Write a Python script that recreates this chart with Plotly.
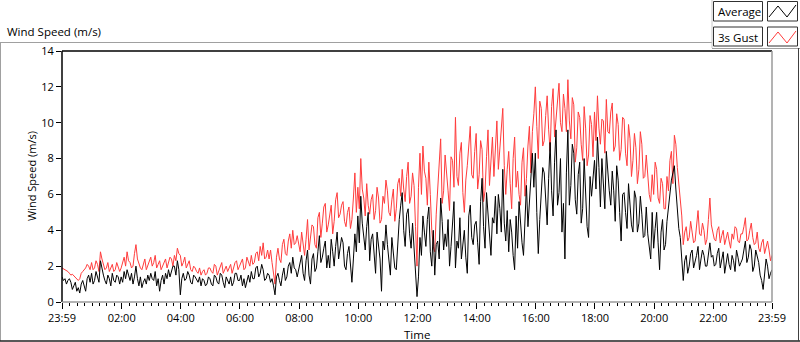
import plotly.graph_objects as go

# ---- data: samples on the 6-minute grid (first sample 23:59 of the previous day) ----
start_minute = -1
step_minutes = 6

gust = [
    1.9, 1.8, 1.7, 1.5, 1.45, 1.3, 1.3, 1.7, 1.9, 2.0,
    2.2, 1.9, 2.1, 2.8, 2.0, 1.9, 1.7, 2.1, 1.8, 2.0,
    1.9, 2.5, 2.8, 2.2, 2.0, 3.2, 2.1, 1.8, 2.4, 2.0,
    2.5, 2.2, 1.9, 2.3, 2.0, 2.4, 2.2, 2.4, 2.6, 3.0,
    2.6, 2.2, 1.9, 2.3, 1.7, 1.9, 1.6, 1.5, 1.8, 1.6,
    1.9, 1.6, 2.0, 1.7, 2.2, 1.8, 1.7, 2.1, 1.9, 2.3,
    2.0, 2.4, 1.9, 2.3, 2.6, 2.2, 2.8, 3.1, 3.3, 2.5,
    2.4, 2.2, 1.0, 3.0, 2.2, 3.5, 2.6, 3.8, 4.0, 3.3,
    3.2, 3.9, 2.6, 4.6, 3.5, 4.2, 3.0, 5.0, 4.4, 5.5,
    4.3, 5.4, 4.5, 6.1, 4.9, 5.6, 4.2, 5.3, 4.6, 7.2,
    6.4, 8.0, 5.8, 6.6, 4.9, 6.0, 5.1, 5.8, 4.6, 5.5,
    6.2, 4.8, 6.3, 5.2, 6.9, 7.4, 5.6, 7.8, 5.9, 6.5,
    2.0, 8.3, 8.7, 6.9, 7.8, 4.0, 2.8, 6.3, 9.1, 6.2,
    7.4, 5.1, 7.9, 10.3, 6.5, 8.9, 5.0, 7.6, 9.8, 6.9,
    9.4, 7.1, 8.5, 6.2, 9.6, 8.0, 7.0, 10.1, 8.6, 10.8,
    6.0, 8.4, 5.2, 9.2, 7.3, 5.4, 8.6, 6.9, 9.8, 9.5,
    12.0, 8.0, 10.8, 9.0, 11.5, 8.4, 11.9, 10.2, 12.2, 9.5,
    10.8, 12.4, 9.1, 11.0, 8.6, 10.3, 7.9, 9.7, 8.2, 9.9,
    10.6, 11.5, 8.8, 10.1, 11.3, 9.4, 11.1, 8.7, 9.9, 8.5,
    10.2, 7.6, 9.1, 7.9, 8.6, 7.4, 8.8, 7.0, 6.8, 5.6,
    6.0, 7.4, 5.5, 6.6, 5.2, 6.2, 8.4, 9.3, 7.5, 5.5,
    3.2, 4.2, 3.6, 3.9, 3.4, 5.1, 3.7, 4.0, 3.5, 5.8,
    3.9, 3.4, 4.2, 3.7, 3.2, 3.9, 3.0, 3.5, 4.1, 3.3,
    3.8, 4.7, 3.5, 4.4, 3.2, 3.9, 2.8, 3.5, 3.1, 2.9,
    2.6,
]

average = [
    1.4, 1.3, 1.2, 1.1, 0.9, 0.6, 0.5, 1.2, 0.6, 1.5,
    1.6, 1.2, 1.4, 2.3, 1.5, 1.0, 1.3, 1.6, 1.1, 1.4,
    1.4, 1.7, 1.8, 1.2, 1.0, 2.0, 0.9, 0.8, 1.3, 1.5,
    1.6, 1.2, 0.9, 0.6, 1.5, 1.6, 1.8, 1.7, 2.0, 2.3,
    0.4, 1.6, 1.3, 1.5, 1.0, 1.4, 1.1, 0.9, 1.2, 1.0,
    1.3, 0.9, 1.4, 1.0, 1.5, 0.8, 1.2, 1.4, 1.1, 1.6,
    1.2, 0.9, 0.8, 1.5, 1.7, 1.3, 2.0, 1.6, 1.8, 1.3,
    1.5, 1.3, 0.4, 1.6, 0.9, 1.9, 1.4, 2.2, 2.5, 1.8,
    1.8, 2.6, 1.2, 2.9, 1.0, 2.7, 1.9, 3.7, 2.5, 3.4,
    2.6, 3.5, 2.0, 3.9, 2.9, 3.3, 1.8, 3.1, 1.1, 3.8,
    4.8, 5.9, 3.6, 4.2, 2.3, 3.8, 1.6, 3.3, 0.6, 2.9,
    3.2, 1.5, 2.8, 1.8, 4.6, 6.1, 3.1, 5.2, 3.0, 2.9,
    0.3, 3.6, 4.8, 3.1, 5.3, 2.0, 1.5, 3.4, 5.8, 2.9,
    3.1, 2.0, 4.4, 1.9, 3.0, 2.4, 4.0, 1.6, 5.4, 3.2,
    4.5, 2.1, 6.9, 3.0, 5.0, 2.6, 4.4, 3.8, 5.2, 7.4,
    3.4, 2.8, 3.9, 1.8, 3.0, 4.2, 2.6, 6.5, 5.5, 8.3,
    8.3, 2.7, 5.8, 7.2, 4.3, 8.9, 4.8, 9.6, 6.1, 3.9,
    2.4, 9.6, 6.5, 8.3, 4.9, 7.8, 5.2, 6.4, 3.6, 5.9,
    7.9, 9.2, 5.3, 6.7, 8.4, 6.2, 7.3, 4.5, 6.8, 3.4,
    6.1, 4.1, 5.4, 3.9, 5.8, 4.4, 4.9, 3.7, 3.8, 2.4,
    3.0, 5.0, 1.8, 4.6, 3.2, 5.4, 6.8, 7.6, 5.0, 3.6,
    1.2, 2.6, 2.0, 2.9, 2.2, 3.1, 2.4, 2.6, 2.0, 3.3,
    2.6, 2.1, 3.0, 2.4, 1.6, 2.7, 1.8, 2.3, 2.9, 2.0,
    2.4, 3.4, 2.5, 2.9, 2.0, 2.6, 1.5, 0.7, 2.4, 1.3,
    1.8,
]

# ---- samples half-way between the above (minute 2, 8, 14, ...) ----
gust_mid = [
    1.85, 1.75, 1.6, 1.55, 1.35, 1.2, 1.6, 1.8, 2.1, 1.8,
    1.8, 2.3, 1.7, 2.4, 1.8, 2.2, 1.9, 1.7, 2.2, 1.7,
    2.2, 2.0, 2.3, 1.9, 2.7, 2.4, 1.9, 2.2, 1.8, 2.3,
    2.0, 2.6, 2.1, 1.8, 2.2, 1.9, 2.5, 2.0, 2.3, 2.7,
    2.0, 2.5, 2.1, 1.8, 2.0, 1.7, 1.9, 1.7, 1.5, 1.9,
    1.7, 2.1, 1.5, 2.0, 1.6, 2.0, 1.9, 1.6, 2.2, 1.8,
    2.2, 1.8, 2.5, 2.0, 2.1, 2.7, 2.3, 2.6, 2.4, 2.9,
    2.9, 1.6, 2.5, 2.4, 3.2, 2.7, 3.4, 3.0, 3.2, 3.7,
    2.8, 3.1, 3.5, 2.9, 4.3, 3.2, 4.7, 3.6, 5.3, 3.9,
    5.0, 3.8, 5.7, 4.7, 5.4, 4.5, 5.0, 4.1, 5.8, 5.0,
    5.2, 6.3, 4.8, 5.4, 5.7, 4.6, 6.4, 4.4, 5.9, 6.8,
    5.0, 5.7, 4.5, 6.6, 5.9, 6.3, 7.0, 5.5, 7.2, 4.2,
    6.4, 6.0, 7.3, 5.4, 6.0, 3.1, 4.9, 7.8, 5.5, 8.2,
    6.2, 8.1, 6.4, 7.0, 8.3, 6.1, 6.8, 8.7, 7.1, 8.4,
    6.3, 9.0, 5.6, 8.1, 6.5, 9.2, 8.3, 7.4, 9.5, 7.6,
    7.4, 6.6, 8.0, 6.4, 6.0, 7.8, 5.9, 8.7, 7.2, 10.5,
    9.8, 11.2, 8.7, 10.4, 9.6, 10.9, 9.2, 11.3, 10.0, 11.6,
    9.5, 10.1, 11.4, 7.8, 10.6, 8.8, 10.9, 7.6, 10.4, 8.1,
    9.0, 9.7, 10.2, 8.3, 9.5, 10.6, 8.4, 10.5, 7.9, 10.3,
    8.3, 9.9, 7.0, 9.4, 6.6, 9.5, 6.9, 8.2, 6.0, 7.1,
    7.8, 5.8, 6.9, 5.2, 7.0, 7.9, 6.6, 8.8, 6.5, 4.8,
    3.9, 3.4, 4.5, 3.3, 4.3, 3.8, 4.4, 3.2, 4.6, 4.3,
    3.5, 4.0, 3.3, 4.0, 3.6, 3.4, 3.8, 4.2, 3.4, 3.8,
    4.2, 3.4, 4.0, 3.6, 3.3, 3.0, 3.3, 2.7, 3.4, 2.3,
]

average_mid = [
    1.2, 1.0, 1.3, 0.7, 1.1, 0.8, 1.0, 0.9, 1.3, 1.1,
    1.0, 1.7, 1.1, 1.8, 1.2, 1.5, 0.9, 1.2, 1.5, 1.0,
    1.1, 1.3, 1.5, 1.6, 1.4, 1.3, 1.4, 1.1, 1.0, 1.2,
    1.3, 1.7, 1.3, 1.2, 1.0, 1.3, 1.4, 2.0, 1.5, 1.8,
    1.3, 1.2, 1.7, 1.1, 1.5, 1.2, 1.4, 1.3, 0.9, 1.4,
    1.0, 1.5, 1.1, 1.6, 1.1, 1.4, 1.0, 0.9, 1.6, 1.2,
    1.5, 1.3, 1.2, 1.1, 1.3, 1.9, 1.4, 2.1, 1.2, 1.6,
    1.1, 0.9, 1.4, 1.2, 1.5, 1.2, 2.0, 1.6, 1.9, 1.4,
    2.4, 1.6, 2.3, 1.5, 2.4, 1.7, 2.8, 2.2, 3.0, 1.9,
    1.9, 2.8, 3.1, 2.4, 3.6, 2.0, 2.7, 2.3, 2.4, 2.8,
    3.3, 4.4, 2.9, 5.0, 3.5, 2.7, 3.9, 2.4, 3.4, 4.3,
    2.4, 3.6, 1.9, 3.3, 5.4, 4.0, 4.9, 3.8, 4.4, 1.7,
    1.4, 2.6, 3.9, 4.6, 2.8, 4.0, 3.2, 2.4, 4.5, 3.8,
    4.6, 3.1, 5.6, 3.4, 4.7, 3.3, 2.5, 4.8, 3.6, 4.3,
    3.3, 5.6, 4.2, 6.1, 3.5, 4.7, 5.9, 6.0, 3.9, 4.4,
    5.1, 4.6, 2.6, 4.8, 5.6, 3.3, 5.2, 4.2, 7.2, 6.4,
    5.0, 4.6, 7.5, 5.3, 6.9, 6.2, 7.8, 5.4, 8.0, 5.5,
    7.2, 5.4, 8.8, 5.7, 7.1, 4.4, 8.0, 4.2, 7.0, 6.7,
    6.3, 7.5, 8.0, 5.2, 7.0, 5.4, 6.2, 7.6, 5.0, 6.0,
    5.0, 6.6, 4.3, 6.2, 3.9, 5.9, 3.6, 5.3, 2.9, 5.0,
    4.1, 3.3, 3.9, 2.9, 4.5, 5.9, 7.2, 6.3, 4.1, 2.5,
    2.3, 1.6, 2.7, 1.9, 2.6, 1.8, 2.9, 2.0, 2.7, 2.5,
    2.0, 2.7, 1.9, 2.8, 2.2, 2.1, 2.6, 1.7, 2.5, 2.2,
    2.9, 2.2, 3.2, 1.7, 2.9, 2.2, 1.2, 1.6, 2.0, 1.6,
]

tick_minutes = [-1, 120, 240, 360, 480, 600, 720, 840, 960, 1080, 1200, 1320, 1439]
tick_labels = ["23:59", "02:00", "04:00", "06:00", "08:00", "10:00", "12:00",
               "14:00", "16:00", "18:00", "20:00", "22:00", "23:59"]
y_ticks = [0, 2, 4, 6, 8, 10, 12, 14]

series_names = ["Average", "3s Gust"]

# merge the grid samples with the half-way samples in time order
minutes, gust_all, average_all = [], [], []
for i in range(len(gust)):
    minutes.append(start_minute + step_minutes * i)
    gust_all.append(gust[i])
    average_all.append(average[i])
    if i < len(gust_mid):
        minutes.append(start_minute + step_minutes * i + step_minutes // 2)
        gust_all.append(gust_mid[i])
        average_all.append(average_mid[i])

# ---- geometry helpers (pixel -> paper) ----
W, H = 800, 342
PL, PR, PT, PB = 62, 772, 51, 302


def px(x):
    return (x - PL) / (PR - PL)


def py(y):
    return (PB - y) / (PB - PT)


FONT = "Open Sans"
RED = "#ff3c3c"

fig = go.Figure()
fig.add_trace(go.Scatter(x=minutes, y=gust_all, mode="lines", name=series_names[1],
                         line=dict(color=RED, width=1), showlegend=False))
fig.add_trace(go.Scatter(x=minutes, y=average_all, mode="lines", name=series_names[0],
                         line=dict(color="#000000", width=1), showlegend=False))

shapes = []
# plot frame: dark top/left, grey bottom/right
shapes.append(dict(type="line", xref="paper", yref="paper", x0=0, x1=1, y0=1, y1=1,
                   line=dict(color="#000000", width=1.5)))
shapes.append(dict(type="line", xref="paper", yref="paper", x0=0, x1=0, y0=0, y1=1,
                   line=dict(color="#000000", width=1.5)))
shapes.append(dict(type="line", xref="paper", yref="paper", x0=0, x1=1, y0=0, y1=0,
                   line=dict(color="#9a9a9a", width=1.5)))
shapes.append(dict(type="line", xref="paper", yref="paper", x0=1, x1=1, y0=0, y1=1,
                   line=dict(color="#9a9a9a", width=1.5)))
# outer panel
shapes.append(dict(type="line", xref="paper", yref="paper", x0=px(0), x1=px(712),
                   y0=py(42.5), y1=py(42.5), line=dict(color="#a0a0a0", width=1)))
shapes.append(dict(type="line", xref="paper", yref="paper", x0=px(712), x1=px(712),
                   y0=py(0), y1=py(48), line=dict(color="#c8c8c8", width=1)))
shapes.append(dict(type="line", xref="paper", yref="paper", x0=px(712), x1=px(800),
                   y0=py(48.5), y1=py(48.5), line=dict(color="#a0a0a0", width=1)))
shapes.append(dict(type="line", xref="paper", yref="paper", x0=px(0.5), x1=px(0.5),
                   y0=py(42), y1=py(341), line=dict(color="#a0a0a0", width=1)))
shapes.append(dict(type="line", xref="paper", yref="paper", x0=px(0), x1=px(800),
                   y0=py(341), y1=py(341), line=dict(color="#202020", width=1.5)))
shapes.append(dict(type="line", xref="paper", yref="paper", x0=px(798.5), x1=px(798.5),
                   y0=py(48), y1=py(341), line=dict(color="#404040", width=1)))

# legend boxes
for (yt, yb) in [(1.5, 21), (27, 46)]:
    shapes.append(dict(type="rect", xref="paper", yref="paper", x0=px(713.5), x1=px(762.5),
                       y0=py(yb), y1=py(yt), line=dict(color="#303030", width=1),
                       fillcolor="white"))
    shapes.append(dict(type="rect", xref="paper", yref="paper", x0=px(767.5), x1=px(797.5),
                       y0=py(yb), y1=py(yt), line=dict(color="#303030", width=1),
                       fillcolor="white"))


def zig(y0, color):
    pts = [(769, y0 + 13), (778, y0 + 2), (787, y0 + 13), (796, y0 + 1)]
    path = "M " + " L ".join(f"{px(a):.5f},{py(b):.5f}" for a, b in pts)
    return dict(type="path", xref="paper", yref="paper", path=path,
                line=dict(color=color, width=1))


shapes.append(zig(4, "#000000"))
shapes.append(zig(30, RED))

annotations = [
    dict(text="Wind Speed (m/s)", xref="paper", yref="paper", x=px(5), y=py(31),
         xanchor="left", yanchor="middle", showarrow=False,
         font=dict(family=FONT, size=11.5, color="#000000")),
    dict(text="Wind Speed (m/s)", xref="paper", yref="paper", x=px(31), y=py(176),
         xanchor="center", yanchor="middle", showarrow=False, textangle=-90,
         font=dict(family=FONT, size=11, color="#000000")),
    dict(text="Time", xref="paper", yref="paper", x=px(417), y=py(334),
         xanchor="center", yanchor="middle", showarrow=False,
         font=dict(family=FONT, size=11.5, color="#000000")),
    dict(text=series_names[0], xref="paper", yref="paper", x=px(716), y=py(12),
         xanchor="left", yanchor="middle", showarrow=False,
         font=dict(family=FONT, size=11.5, color="#000000")),
    dict(text=series_names[1], xref="paper", yref="paper", x=px(716), y=py(37),
         xanchor="left", yanchor="middle", showarrow=False,
         font=dict(family=FONT, size=11.5, color="#000000")),
]

fig.update_layout(
    width=W, height=H,
    margin=dict(l=PL, r=W - PR, t=PT, b=H - PB, pad=0),
    paper_bgcolor="white", plot_bgcolor="white",
    showlegend=False,
    shapes=shapes, annotations=annotations,
    font=dict(family=FONT, size=11, color="#000000"),
    xaxis=dict(range=[-1, 1439], tickvals=tick_minutes, ticktext=tick_labels,
               ticks="outside", ticklen=6, tickcolor="#000000", tickwidth=1,
               showgrid=False, zeroline=False, showline=False,
               tickfont=dict(family=FONT, size=11, color="#000000"),
               minor=dict(ticks="outside", ticklen=3, tickcolor="#000000",
                          dtick=15, tick0=0, showgrid=False)),
    yaxis=dict(range=[0, 14], tickvals=y_ticks, ticks="outside", ticklen=5,
               tickcolor="#000000", tickwidth=1, showgrid=False, zeroline=False,
               showline=False, tickfont=dict(family=FONT, size=11, color="#000000")),
)

fig.write_html(
    "out.html",
    config={"displayModeBar": False},
    post_script="document.body.style.margin='0';document.body.style.padding='0';",
)
